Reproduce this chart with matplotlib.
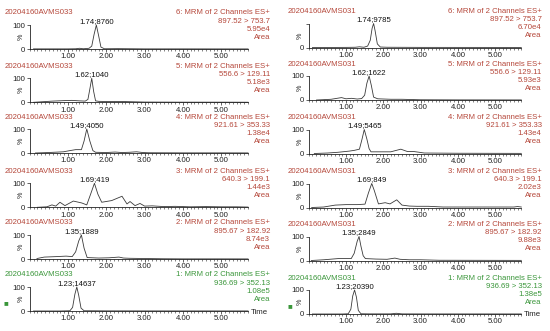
"""MRM chromatograms, two samples x six channels."""
import matplotlib
matplotlib.use('Agg')
import matplotlib.pyplot as plt
from matplotlib.ticker import MultipleLocator

# ---- data -------------------------------------------------------------
samples = ["20204160AVMS033", "20204160AVMS031"]
channels = [6, 5, 4, 3, 2, 1]
transitions = ["897.52 > 753.7", "556.6 > 129.11", "921.61 > 353.33",
               "640.3 > 199.1", "895.67 > 182.92", "936.69 > 352.13"]
peak_rt = [1.74, 1.62, 1.49, 1.69, 1.35, 1.23]
areas_033 = [8760, 1040, 4050, 419, 1889, 14637]
areas_031 = [9785, 1622, 5465, 849, 2849, 20390]
intens_033 = ["5.95e4", "5.18e3", "1.38e4", "1.44e3", "8.74e3", "1.08e5"]
intens_031 = ["6.70e4", "5.93e3", "1.43e4", "2.02e3", "9.88e3", "1.38e5"]

# sample 033 traces (time min, % intensity)
s033_ch6_t = [0.1, 0.5, 1.0, 1.2, 1.30, 1.40, 1.55, 1.62, 1.68, 1.74, 1.80, 1.86, 1.95, 2.3, 3.0, 4.0, 5.0, 5.7]
s033_ch6_y = [0.5, 0.5, 0.5, 1, 3, 1, 3, 12, 60, 100, 55, 8, 1, 1.5, 0.5, 0.5, 0.3, 0.3]
s033_ch5_t = [0.1, 0.3, 0.6, 0.9, 1.1, 1.3, 1.45, 1.52, 1.57, 1.62, 1.67, 1.72, 1.8, 2.1, 2.5, 3.0, 4.0, 5.0, 5.7]
s033_ch5_y = [0, 2, 5, 7, 8, 6, 5, 12, 55, 100, 45, 6, 4, 3, 3, 1, 0.5, 0.5, 0.3]
s033_ch4_t = [0.15, 0.5, 0.88, 1.05, 1.20, 1.35, 1.42, 1.49, 1.57, 1.65, 1.72, 2.0, 2.23, 2.4, 2.6, 2.79, 2.95, 3.1, 4.0, 5.0, 5.7]
s033_ch4_y = [0, 2, 5, 10, 14, 14, 50, 100, 50, 10, 3, 2, 4, 2, 3, 5, 2, 1, 0.5, 0.5, 0.3]
s033_ch3_t = [0.2, 0.45, 0.58, 0.68, 0.79, 0.92, 1.14, 1.36, 1.49, 1.58, 1.69, 1.78, 1.88, 2.14, 2.41,
              2.54, 2.62, 2.75, 2.88, 3.0, 3.2, 3.5, 3.8, 4.2, 4.6, 5.0, 5.4, 5.7]
s033_ch3_y = [0, 2, 10, 5, 21, 7, 26, 18, 10, 50, 100, 55, 21, 28, 46,
              14, 24, 7, 16, 5, 6, 3, 4, 2, 3, 2, 2, 1]
s033_ch2_t = [0.19, 0.38, 0.7, 0.95, 1.11, 1.20, 1.28, 1.35, 1.42, 1.50, 1.8, 2.07, 2.33, 2.45, 2.6, 3.0, 3.5, 4.0, 5.0, 5.7]
s033_ch2_y = [2, 8, 10, 12, 10, 30, 75, 100, 45, 6, 4, 5, 8, 4, 3, 2, 1, 0.5, 0.5, 0.3]
s033_ch1_t = [0.1, 0.8, 1.05, 1.12, 1.18, 1.23, 1.28, 1.34, 1.42, 2.0, 3.0, 5.7]
s033_ch1_y = [0, 0, 1, 15, 70, 100, 65, 12, 1, 0.5, 0.3, 0.2]

# sample 031 traces
s031_ch6_t = [0.1, 1.0, 1.25, 1.36, 1.48, 1.58, 1.65, 1.70, 1.74, 1.78, 1.84, 1.92, 2.1, 3.0, 5.7]
s031_ch6_y = [0, 0.5, 1, 3, 1, 6, 30, 80, 100, 70, 15, 2, 1, 0.5, 0.3]
s031_ch5_t = [0.21, 0.6, 0.88, 1.0, 1.15, 1.30, 1.42, 1.50, 1.56, 1.62, 1.68, 1.74, 1.85, 2.2, 2.5, 3.0, 4.0, 5.7]
s031_ch5_y = [0, 3, 10, 5, 7, 4, 6, 20, 70, 100, 60, 12, 5, 3, 3, 1, 0.5, 0.3]
s031_ch4_t = [0.15, 0.5, 0.78, 1.09, 1.22, 1.36, 1.43, 1.49, 1.56, 1.62, 1.67, 2.0, 2.2, 2.47, 2.65, 2.83, 3.1, 4.0, 5.7]
s031_ch4_y = [0, 2, 5, 10, 13, 18, 60, 100, 60, 20, 7, 7, 7, 18, 8, 8, 2, 1, 0.5]
s031_ch3_t = [0.08, 0.4, 0.71, 1.0, 1.3, 1.51, 1.60, 1.69, 1.76, 1.87, 2.05, 2.18, 2.36, 2.5, 2.7, 2.9,
              3.21, 3.6, 4.0, 4.5, 5.0, 5.5, 5.6, 5.7]
s031_ch3_y = [0, 2, 10, 12, 12, 14, 60, 100, 70, 15, 20, 15, 32, 10, 6, 5,
              5, 2, 2, 2, 2, 2, 4, 2]
s031_ch2_t = [0.07, 0.4, 0.79, 1.14, 1.22, 1.30, 1.35, 1.40, 1.46, 1.52, 1.8, 2.1, 2.31, 2.45, 2.7, 3.0, 3.5, 5.7]
s031_ch2_y = [0, 3, 8, 8, 30, 80, 100, 60, 20, 8, 6, 5, 10, 5, 3, 3, 1, 0.5]
s031_ch1_t = [0.1, 0.9, 1.06, 1.13, 1.18, 1.23, 1.28, 1.33, 1.40, 1.6, 2.2, 2.35, 2.5, 3.0, 5.7]
s031_ch1_y = [0, 0, 1, 20, 75, 100, 70, 15, 1, 0.5, 0.5, 3, 0.5, 0.3, 0.2]

traces_033 = [(s033_ch6_t, s033_ch6_y), (s033_ch5_t, s033_ch5_y), (s033_ch4_t, s033_ch4_y),
              (s033_ch3_t, s033_ch3_y), (s033_ch2_t, s033_ch2_y), (s033_ch1_t, s033_ch1_y)]
traces_031 = [(s031_ch6_t, s031_ch6_y), (s031_ch5_t, s031_ch5_y), (s031_ch4_t, s031_ch4_y),
              (s031_ch3_t, s031_ch3_y), (s031_ch2_t, s031_ch2_y), (s031_ch1_t, s031_ch1_y)]

# ---- layout (pixels) --------------------------------------------------
W, H = 550, 331
FS = 5.6
RED = '#b5473a'
GREEN = '#3a963a'
plt.rcParams['font.family'] = ['Liberation Sans', 'DejaVu Sans']

columns = [
    dict(sample=samples[0], traces=traces_033, areas=areas_033, intens=intens_033,
         x0=29.7, ppm=38.3, tops=[25, 78.3, 129, 183.3, 235, 287], xl=5, xr=270, show100=True),
    dict(sample=samples[1], traces=traces_031, areas=areas_031, intens=intens_031,
         x0=308.7, ppm=37.3, tops=[23.5, 76, 129.5, 183.5, 236.5, 290], xl=288, xr=541.7, show100=False),
]
XMAX = 5.7
AX_H = 24


def fx(px):
    return px / W


def fy(py):
    return 1 - py / H


fig = plt.figure(figsize=(W / 100, H / 100), dpi=100)

for ci, col in enumerate(columns):
    for i, ch in enumerate(channels):
        top = col['tops'][i]
        ax = fig.add_axes([fx(col['x0']), fy(top + AX_H), col['ppm'] * XMAX / W, AX_H / H])
        t, y = col['traces'][i]
        ax.plot(t, y, color='#3a3a3a', lw=0.6, clip_on=False)
        ax.set_xlim(0, XMAX)
        ax.set_ylim(0, 100)
        for s in ['top', 'right']:
            ax.spines[s].set_visible(False)
        for s in ['left', 'bottom']:
            ax.spines[s].set_linewidth(0.6)
            ax.spines[s].set_color('#222222')
        ax.set_xticks([1, 2, 3, 4, 5])
        ax.set_xticklabels(['1.00', '2.00', '3.00', '4.00', '5.00'])
        ax.xaxis.set_minor_locator(MultipleLocator(0.1))
        ax.set_yticks([0, 100])
        if ci == 1 and i == 0:
            ax.set_yticklabels(['0', ''])
        else:
            ax.set_yticklabels(['0', '100'])
        ax.tick_params(axis='both', which='major', labelsize=FS, length=2.2, width=0.5,
                       pad=1, colors='#222222')
        ax.tick_params(axis='x', which='minor', length=1.2, width=0.4, colors='#222222')
        ax.patch.set_alpha(0)

        # peak label
        area = col['areas'][i]
        ax.text(peak_rt[i], 101, f"{peak_rt[i]:.2f};{area}", ha='center', va='bottom',
                fontsize=FS, color='#111111', clip_on=False)

        # % sign
        fig.text(fx(col['x0'] - 8), fy(top + 12), '%', rotation=90, ha='center', va='center',
                 fontsize=FS - 0.5, color='#222222')

        color = GREEN if ch == 1 else RED
        fig.text(fx(col['xl']), fy(top - 12), col['sample'], ha='left', va='center',
                 fontsize=FS, color=color)
        lines = [f"{ch}: MRM of 2 Channels ES+", transitions[i], col['intens'][i], 'Area']
        offs = [-12, -3.6, 4.2, 12.3]
        for txt, o in zip(lines, offs):
            fig.text(fx(col['xr']), fy(top + o), txt, ha='right', va='center',
                     fontsize=FS, color=color)

        if ch == 1:
            fig.text(fx(col['x0'] + col['ppm'] * XMAX + 3), fy(top + AX_H + 1), 'Time',
                     ha='left', va='center', fontsize=FS, color='#222222')
            fig.text(fx(col['xl'] - 1), fy(top + 17), '\u25A0', ha='left', va='center',
                     fontsize=FS, color=GREEN)

fig.savefig('out.png', dpi=100)
